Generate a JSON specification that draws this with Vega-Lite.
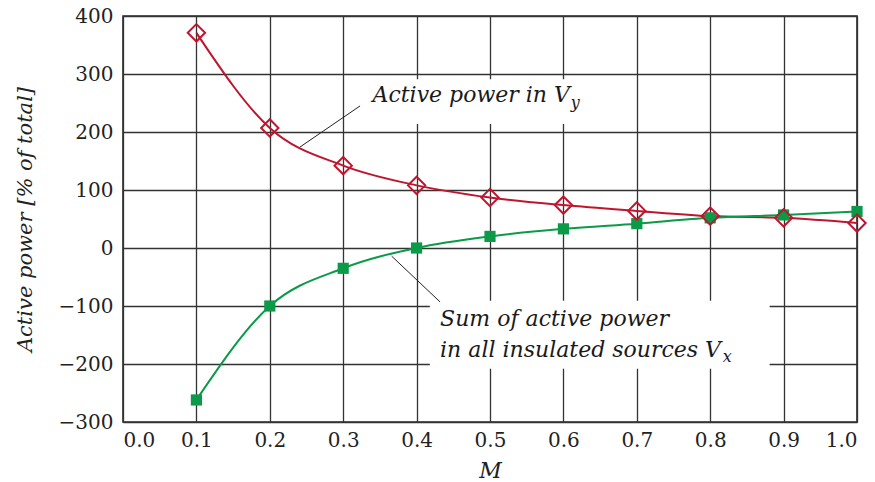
{
  "$schema": "https://vega.github.io/schema/vega-lite/v6.json",
  "width": 734,
  "height": 406,
  "autosize": {"type": "none"},
  "padding": {"left": 123, "top": 16, "right": 18, "bottom": 60},
  "background": "white",
  "config": {
    "view": {"stroke": "#2a2a2a", "strokeWidth": 1.6},
    "font": "DejaVu Serif"
  },
  "datasets": {
    "curves": [
      {"M": 0.1, "P": 371, "s": "Vy"}, {"M": 0.2, "P": 207, "s": "Vy"}, {"M": 0.3, "P": 142, "s": "Vy"},
      {"M": 0.4, "P": 108, "s": "Vy"}, {"M": 0.5, "P": 87, "s": "Vy"}, {"M": 0.6, "P": 74, "s": "Vy"},
      {"M": 0.7, "P": 64, "s": "Vy"}, {"M": 0.8, "P": 55, "s": "Vy"}, {"M": 0.9, "P": 52, "s": "Vy"},
      {"M": 1.0, "P": 43, "s": "Vy"},
      {"M": 0.1, "P": -262, "s": "Vx"}, {"M": 0.2, "P": -100, "s": "Vx"}, {"M": 0.3, "P": -35, "s": "Vx"},
      {"M": 0.4, "P": 0, "s": "Vx"}, {"M": 0.5, "P": 20, "s": "Vx"}, {"M": 0.6, "P": 33, "s": "Vx"},
      {"M": 0.7, "P": 42, "s": "Vx"}, {"M": 0.8, "P": 52, "s": "Vx"}, {"M": 0.9, "P": 57, "s": "Vx"},
      {"M": 1.0, "P": 63, "s": "Vx"}
    ],
    "boxes": [
      {"x": 0.330, "x2": 0.636, "y": 291, "y2": 214},
      {"x": 0.418, "x2": 0.881, "y": -91, "y2": -208}
    ],
    "leaders": [
      {"x": 0.241, "y": 174, "x2": 0.323, "y2": 245},
      {"x": 0.366, "y": -14, "x2": 0.432, "y2": -93}
    ],
    "labels": [
      {"x": 0.340, "y": 252, "t": "Active power in V"},
      {"x": 0.432, "y": -134, "t": "Sum of active power"},
      {"x": 0.432, "y": -188, "t": "in all insulated sources V"}
    ],
    "subs": [
      {"x": 0.610, "y": 241, "t": "y"},
      {"x": 0.817, "y": -197, "t": "x"}
    ]
  },
  "layer": [
    {
      "data": {"name": "boxes"},
      "mark": {"type": "rect", "color": "white"},
      "encoding": {
        "x": {"field": "x", "type": "quantitative", "scale": {"domain": [0, 1]}},
        "x2": {"field": "x2"},
        "y": {"field": "y", "type": "quantitative", "scale": {"domain": [-300, 400]}},
        "y2": {"field": "y2"}
      }
    },
    {
      "data": {"name": "leaders"},
      "mark": {"type": "rule", "color": "#222", "strokeWidth": 1},
      "encoding": {
        "x": {"field": "x", "type": "quantitative"},
        "x2": {"field": "x2"},
        "y": {"field": "y", "type": "quantitative"},
        "y2": {"field": "y2"}
      }
    },
    {
      "data": {"name": "curves"},
      "mark": {"type": "line", "interpolate": "monotone", "strokeWidth": 2},
      "encoding": {
        "x": {
          "field": "M", "type": "quantitative",
          "scale": {"domain": [0, 1], "nice": false},
          "axis": {
            "values": [0, 0.1, 0.2, 0.3, 0.4, 0.5, 0.6, 0.7, 0.8, 0.9, 1.0],
            "format": ".1f", "title": "M",
            "grid": true, "gridColor": "#333", "gridWidth": 1.3, "gridOpacity": 1,
            "ticks": false, "domain": false,
            "labelFont": "DejaVu Serif", "labelFontSize": 20, "labelColor": "#222",
            "labelPadding": 8,
            "titleFont": "DejaVu Serif", "titleFontStyle": "italic", "titleFontWeight": "normal",
            "titleFontSize": 22, "titleColor": "#222", "titlePadding": 10
          }
        },
        "y": {
          "field": "P", "type": "quantitative",
          "scale": {"domain": [-300, 400], "nice": false},
          "axis": {
            "values": [-300, -200, -100, 0, 100, 200, 300, 400],
            "title": "Active power [% of total]",
            "grid": true, "gridColor": "#333", "gridWidth": 1.3, "gridOpacity": 1,
            "ticks": false, "domain": false,
            "labelFont": "DejaVu Serif", "labelFontSize": 20, "labelColor": "#222",
            "labelPadding": 10,
            "titleFont": "DejaVu Serif", "titleFontStyle": "italic", "titleFontWeight": "normal",
            "titleFontSize": 21, "titleColor": "#222", "titlePadding": 23
          }
        },
        "color": {
          "field": "s", "type": "nominal",
          "scale": {"domain": ["Vy", "Vx"], "range": ["#c0152f", "#0a9a48"]},
          "legend": null
        },
        "detail": {"field": "s"}
      }
    },
    {
      "data": {"name": "curves"},
      "transform": [{"filter": "datum.s === 'Vx'"}],
      "mark": {"type": "point", "shape": "square", "filled": true, "size": 125, "color": "#0a9a48", "opacity": 1},
      "encoding": {
        "x": {"field": "M", "type": "quantitative"},
        "y": {"field": "P", "type": "quantitative"}
      }
    },
    {
      "data": {"name": "curves"},
      "transform": [{"filter": "datum.s === 'Vy'"}],
      "mark": {"type": "point", "shape": "diamond", "filled": false, "size": 300, "strokeWidth": 2, "color": "#c0152f", "opacity": 1},
      "encoding": {
        "x": {"field": "M", "type": "quantitative"},
        "y": {"field": "P", "type": "quantitative"}
      }
    },
    {
      "data": {"name": "labels"},
      "mark": {"type": "text", "font": "DejaVu Serif", "fontStyle": "italic", "fontSize": 22, "align": "left", "baseline": "alphabetic", "color": "#1a1a1a"},
      "encoding": {
        "x": {"field": "x", "type": "quantitative"},
        "y": {"field": "y", "type": "quantitative"},
        "text": {"field": "t"}
      }
    },
    {
      "data": {"name": "subs"},
      "mark": {"type": "text", "font": "DejaVu Serif", "fontStyle": "italic", "fontSize": 16, "align": "left", "baseline": "alphabetic", "color": "#1a1a1a"},
      "encoding": {
        "x": {"field": "x", "type": "quantitative"},
        "y": {"field": "y", "type": "quantitative"},
        "text": {"field": "t"}
      }
    }
  ]
}
